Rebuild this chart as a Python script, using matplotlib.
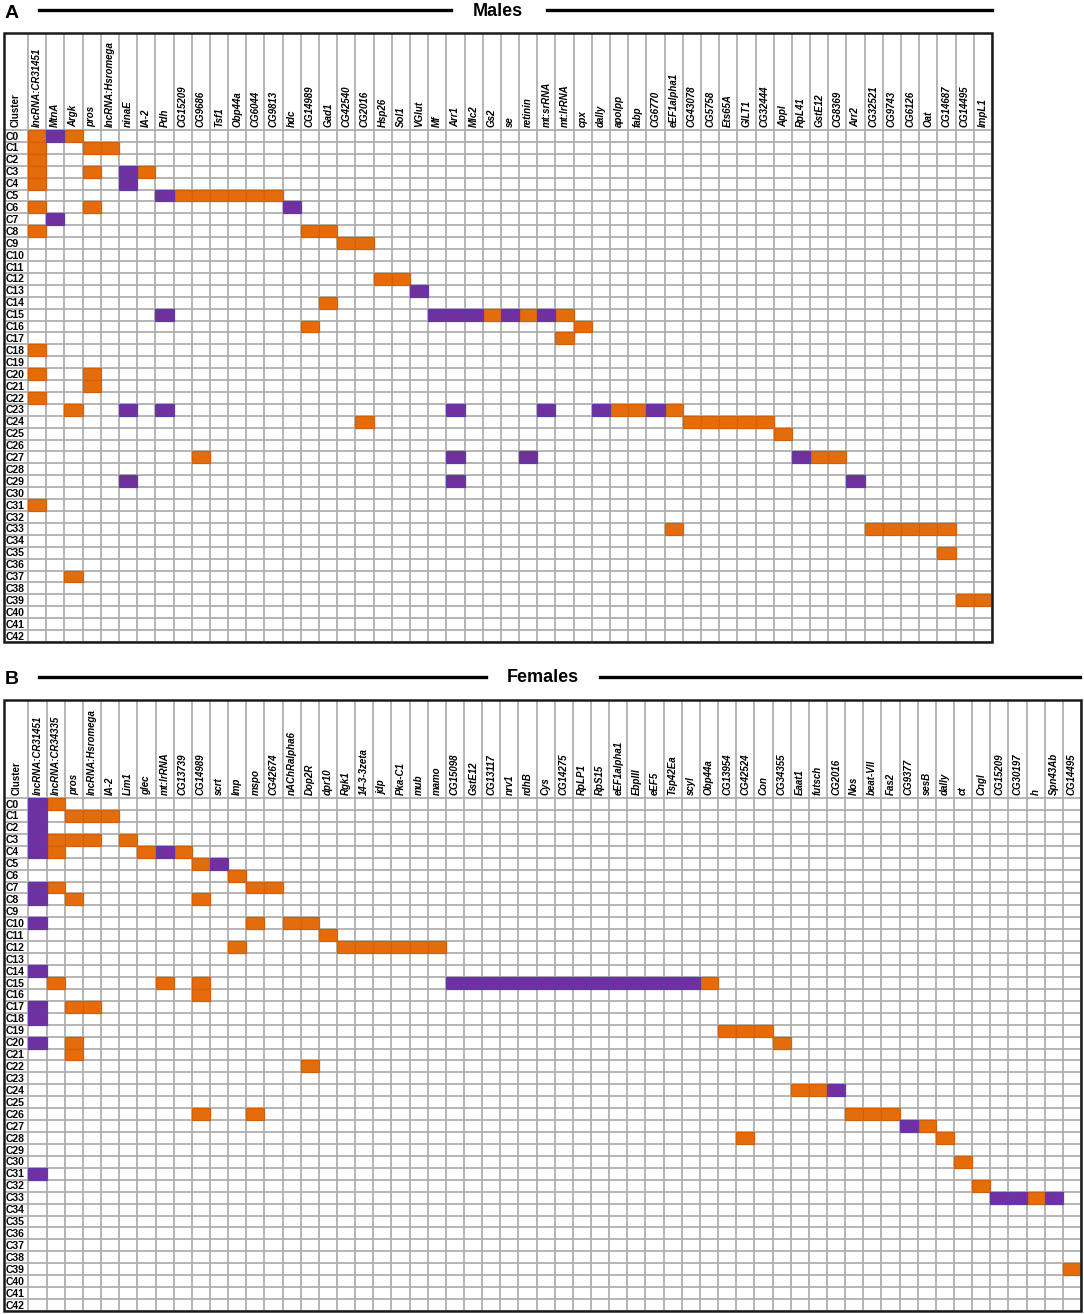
import matplotlib
matplotlib.use("Agg")
import matplotlib.pyplot as plt
from matplotlib.patches import Rectangle
from matplotlib.lines import Line2D

plt.rcParams['font.family'] = ['Liberation Sans', 'DejaVu Sans']

# Clusters (rows), shared by both panels
clusters = [f"C{i}" for i in range(43)]

# ---- Panel A: males ----
male_genes = [
    'lncRNA:CR31451', 'MtnA', 'Argk', 'pros', 'lncRNA:Hsromega', 'ninaE', 'IA-2',
    'Pdh', 'CG15209', 'CG9686', 'Tsf1', 'Obp44a', 'CG6044', 'CG9813', 'hdc',
    'CG14989', 'Gad1', 'CG42540', 'CG2016', 'Hsp26', 'Sol1', 'VGlut', 'Mf',
    'Arr1', 'Mlc2', 'Gs2', 'se', 'retinin', 'mt:srRNA', 'mt:lrRNA', 'cpx',
    'dally', 'apolpp', 'fabp', 'CG6770', 'eEF1alpha1', 'CG43078', 'CG5758',
    'Ets65A', 'GILT1', 'CG32444', 'Appl', 'RpL41', 'GstE12', 'CG8369', 'Arr2',
    'CG32521', 'CG9743', 'CG6126', 'Oat', 'CG14687', 'CG14495', 'ImpL1',
]

# cluster index -> genes marked orange / purple
male_orange = {
    0: ['lncRNA:CR31451', 'Argk'],
    1: ['lncRNA:CR31451', 'pros', 'lncRNA:Hsromega'],
    2: ['lncRNA:CR31451'],
    3: ['lncRNA:CR31451', 'pros', 'IA-2'],
    4: ['lncRNA:CR31451'],
    5: ['CG15209', 'CG9686', 'Tsf1', 'Obp44a', 'CG6044', 'CG9813'],
    6: ['lncRNA:CR31451', 'pros'],
    8: ['lncRNA:CR31451', 'CG14989', 'Gad1'],
    9: ['CG42540', 'CG2016'],
    12: ['Hsp26', 'Sol1'],
    14: ['Gad1'],
    15: ['Gs2', 'retinin', 'mt:lrRNA'],
    16: ['CG14989', 'cpx'],
    17: ['mt:lrRNA'],
    18: ['lncRNA:CR31451'],
    20: ['lncRNA:CR31451', 'pros'],
    21: ['pros'],
    22: ['lncRNA:CR31451'],
    23: ['Argk', 'apolpp', 'fabp', 'eEF1alpha1'],
    24: ['CG2016', 'CG43078', 'CG5758', 'Ets65A', 'GILT1', 'CG32444'],
    25: ['Appl'],
    27: ['CG9686', 'GstE12', 'CG8369'],
    31: ['lncRNA:CR31451'],
    33: ['eEF1alpha1', 'CG32521', 'CG9743', 'CG6126', 'Oat', 'CG14687'],
    35: ['CG14687'],
    37: ['Argk'],
    39: ['CG14495', 'ImpL1'],
}
male_purple = {
    0: ['MtnA'],
    3: ['ninaE'],
    4: ['ninaE'],
    5: ['Pdh'],
    6: ['hdc'],
    7: ['MtnA'],
    13: ['VGlut'],
    15: ['Pdh', 'Mf', 'Arr1', 'Mlc2', 'se', 'mt:srRNA'],
    23: ['ninaE', 'Pdh', 'Arr1', 'mt:srRNA', 'dally', 'CG6770'],
    27: ['Arr1', 'retinin', 'RpL41'],
    29: ['ninaE', 'Arr1', 'Arr2'],
}

# ---- Panel B: females ----
female_genes = [
    'lncRNA:CR31451', 'lncRNA:CR34335', 'pros', 'lncRNA:Hsromega', 'IA-2', 'Lim1',
    'glec', 'mt:lrRNA', 'CG13739', 'CG14989', 'scrt', 'Imp', 'mspo', 'CG42674',
    'nAChRalpha6', 'Dop2R', 'dpr10', 'Rgk1', '14-3-3zeta', 'jdp', 'Pka-C1', 'mub',
    'mamo', 'CG15098', 'GstE12', 'CG13117', 'nrv1', 'rdhB', 'Cys', 'CG14275',
    'RpLP1', 'RpS15', 'eEF1alpha1', 'EbpIII', 'eEF5', 'Tsp42Ea', 'scyl', 'Obp44a',
    'CG13954', 'CG42524', 'Con', 'CG34355', 'Eaat1', 'futsch', 'CG2016', 'Nos',
    'beat-VII', 'Fas2', 'CG9377', 'sesB', 'dally', 'ct', 'Cngl', 'CG15209',
    'CG30197', 'h', 'Spn43Ab', 'CG14495',
]

female_orange = {
    0: ['lncRNA:CR34335'],
    1: ['pros', 'lncRNA:Hsromega', 'IA-2'],
    3: ['lncRNA:CR34335', 'pros', 'lncRNA:Hsromega', 'Lim1'],
    4: ['lncRNA:CR34335', 'glec', 'CG13739'],
    5: ['CG14989'],
    6: ['Imp'],
    7: ['lncRNA:CR34335', 'mspo', 'CG42674'],
    8: ['pros', 'CG14989'],
    10: ['mspo', 'nAChRalpha6', 'Dop2R'],
    11: ['dpr10'],
    12: ['Imp', 'Rgk1', '14-3-3zeta', 'jdp', 'Pka-C1', 'mub', 'mamo'],
    15: ['lncRNA:CR34335', 'mt:lrRNA', 'CG14989', 'Obp44a'],
    16: ['CG14989'],
    17: ['pros', 'lncRNA:Hsromega'],
    19: ['CG13954', 'CG42524', 'Con'],
    20: ['pros', 'CG34355'],
    21: ['pros'],
    22: ['Dop2R'],
    24: ['Eaat1', 'futsch'],
    26: ['CG14989', 'mspo', 'Nos', 'beat-VII', 'Fas2'],
    27: ['sesB'],
    28: ['CG42524', 'dally'],
    30: ['ct'],
    32: ['Cngl'],
    33: ['h'],
    39: ['CG14495'],
}
female_purple = {
    0: ['lncRNA:CR31451'],
    1: ['lncRNA:CR31451'],
    2: ['lncRNA:CR31451'],
    3: ['lncRNA:CR31451'],
    4: ['lncRNA:CR31451', 'mt:lrRNA'],
    5: ['scrt'],
    7: ['lncRNA:CR31451'],
    8: ['lncRNA:CR31451'],
    10: ['lncRNA:CR31451'],
    14: ['lncRNA:CR31451'],
    15: ['CG15098', 'GstE12', 'CG13117', 'nrv1', 'rdhB', 'Cys', 'CG14275', 'RpLP1',
         'RpS15', 'eEF1alpha1', 'EbpIII', 'eEF5', 'Tsp42Ea', 'scyl'],
    17: ['lncRNA:CR31451'],
    18: ['lncRNA:CR31451'],
    20: ['lncRNA:CR31451'],
    24: ['CG2016'],
    27: ['CG9377'],
    31: ['lncRNA:CR31451'],
    33: ['CG15209', 'CG30197', 'Spn43Ab'],
}

ORANGE, ORANGE_EDGE = '#E46C0A', '#D2600A'
PURPLE, PURPLE_EDGE = '#7030A0', '#5E3AA8'
GRID = '#B0B0B0'

W, H = 1084, 1314
fig = plt.figure(figsize=(W / 100, H / 100), dpi=100)


def fx(x):
    return x / W


def fy(y):
    return 1 - y / H


def draw_panel(box, header_px, cluster_px, genes, orange, purple):
    left, top, right, bottom = box
    n = len(genes)
    nrows = len(clusters)
    col_px = (right - left - cluster_px) / n
    row_px = (bottom - top - header_px) / nrows
    cw = cluster_px / col_px          # cluster column width in column units
    hh = header_px / row_px           # header height in row units

    ax = fig.add_axes([fx(left), fy(bottom), (right - left) / W, (bottom - top) / H])
    ax.set_xlim(-cw, n)
    ax.set_ylim(nrows, -hh)
    ax.axis('off')

    # grid
    ax.vlines(range(0, n + 1), -hh, nrows, colors=GRID, linewidth=1.3, zorder=1)
    ax.hlines(range(0, nrows + 1), -cw, n, colors=GRID, linewidth=1.3, zorder=1)

    # coloured cells
    for marks, face, edge in [(orange, ORANGE, ORANGE_EDGE), (purple, PURPLE, PURPLE_EDGE)]:
        for ci, glist in marks.items():
            for g in glist:
                j = genes.index(g)
                ax.add_patch(Rectangle((j, ci), 1, 1,
                                       facecolor=face, edgecolor=edge,
                                       linewidth=0.9, zorder=2))

    # outer frame
    ax.add_patch(Rectangle((-cw, -hh), n + cw, nrows + hh, fill=False,
                           edgecolor='#1a1a1a', linewidth=1.8, zorder=3,
                           clip_on=False))

    # header labels
    pad = 3 / row_px
    ax.text(-cw / 2, -pad, 'Cluster', rotation=90, ha='center', va='bottom',
            fontsize=7, fontweight='bold')
    for j, g in enumerate(genes):
        ax.text(j + 0.5, -pad, g, rotation=90, ha='center', va='bottom',
                fontsize=7, fontweight='bold', fontstyle='italic')

    # row labels
    for i, c in enumerate(clusters):
        ax.text(-cw + 2 / col_px, i + 0.55, c, ha='left', va='center',
                fontsize=7.5, fontweight='bold')
    return ax


def title_bar(letter, title, y, x0, x1, gap_l, gap_r, xc):
    fig.text(fx(5), fy(y + 3), letter, fontsize=14, fontweight='bold',
             ha='left', va='center')
    fig.text(fx(xc), fy(y + 1), title, fontsize=13, fontweight='bold',
             ha='center', va='center')
    fig.add_artist(Line2D([fx(x0), fx(gap_l)], [fy(y), fy(y)], color='black', linewidth=2.4))
    fig.add_artist(Line2D([fx(gap_r), fx(x1)], [fy(y), fy(y)], color='black', linewidth=2.4))


draw_panel((4, 33, 992, 642), 97, 24, male_genes, male_orange, male_purple)
draw_panel((4, 700, 1081, 1311), 98, 24.5, female_genes, female_orange, female_purple)

title_bar('A', 'Males', 10, 39, 992, 451, 547, 498)
title_bar('B', 'Females', 677, 39, 1080, 486, 600, 543)

fig.savefig('out.png', dpi=100, facecolor='white')
